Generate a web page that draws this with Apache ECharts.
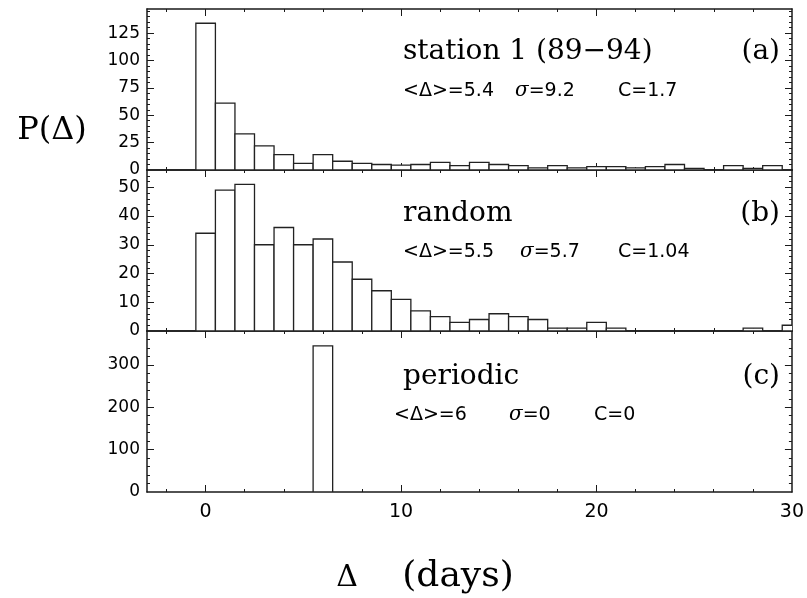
<!DOCTYPE html>
<html>
<head>
<meta charset="utf-8">
<script src="https://cdn.jsdelivr.net/npm/echarts@6/dist/echarts.min.js"></script>
<style>html,body{margin:0;padding:0;background:#fff;}#c{width:807px;height:598px;}</style>
</head>
<body>
<div id="c"></div>
<script>
// ---- data ----
const binsA = [0,1,2,3,4,5,6,7,8,9,10,11,12,13,14,15,16,17,18,19,20,21,22,23,24,25,26,27,28,29];
const countsA = [134,61,33,22,14,6,14,8,6,5,4.5,5,7,4,7,5,4,2,4,2,3,3,2,3,5,1.5,0,4,1.5,4];
const binsB = [0,1,2,3,4,5,6,7,8,9,10,11,12,13,14,15,16,17,18,19,20,21,22,23,24,25,26,27,28,29,30];
const countsB = [34,49,51,30,36,30,32,24,18,14,11,7,5,3,4,6,5,4,1,1,3,1,0,0,0,0,0,0,1,0,2];
const binsC = [6];
const countsC = [345];

const xLabels = [0,10,20,30];
const xMajorTicks = [0,10,20];
const xMinorTicks = [-2,2,4,6,8,12,14,16,18,22,24,26,28];
const yLabelsA = [0,25,50,75,100,125];
const yLabelsB = [0,10,20,30,40,50];
const yLabelsC = [0,100,200,300];

const panelTitles = ['station 1 (89\u221294)','random','periodic'];
const panelTags = ['(a)','(b)','(c)'];
const statMean = ['<\u0394>=5.4','<\u0394>=5.5','<\u0394>=6'];
const statSigma = ['9.2','5.7','0'];
const statC = ['1.7','1.04','0'];

// ---- layout ----
const X_MIN = -3, X_MAX = 30;
const yMax = [147, 56, 380];
const yMinorStep = [5, 2, 20];
const grids = [
  {left:147, width:645, top:9, height:161},
  {left:147, width:645, top:170, height:161},
  {left:147, width:645, top:331, height:161}
];
const INK = '#1a1a1a';
const lineStyle = {color: INK, width: 1.5};
const tickStyle = {color: INK, width: 1};

function minorList(max, step, majors){
  const out = [];
  for (let v = step; v < max; v += step) if (majors.indexOf(v) < 0) out.push(v);
  return out;
}

const xAxis = [], yAxis = [];
const yLabelSets = [yLabelsA, yLabelsB, yLabelsC];
for (let g = 0; g < 3; g++) {
  ['bottom','top'].forEach(pos => {
    xAxis.push({gridIndex:g, type:'value', min:X_MIN, max:X_MAX, position:pos,
      axisLine:{show:true, onZero:false, lineStyle},
      axisTick:{show:true, inside:true, length:3, customValues:xMinorTicks, lineStyle:tickStyle},
      axisLabel:{show:false}, splitLine:{show:false}});
    const showLab = (g === 2 && pos === 'bottom');
    xAxis.push({gridIndex:g, type:'value', min:X_MIN, max:X_MAX, position:pos,
      axisLine:{show:false, onZero:false},
      axisTick:{show:true, inside:true, length:7, customValues:xMajorTicks, lineStyle:tickStyle},
      axisLabel:{show:showLab, customValues:xLabels, margin:11, color:'#000',
        fontFamily:'DejaVu Sans', fontSize:19},
      splitLine:{show:false}});
  });
  const labs = yLabelSets[g];
  const minors = minorList(yMax[g], yMinorStep[g], labs);
  ['left','right'].forEach(pos => {
    yAxis.push({gridIndex:g, type:'value', min:0, max:yMax[g], position:pos,
      axisLine:{show:true, onZero:false, lineStyle},
      axisTick:{show:true, inside:true, length:3, customValues:minors, lineStyle:tickStyle},
      axisLabel:{show:false}, splitLine:{show:false}});
    yAxis.push({gridIndex:g, type:'value', min:0, max:yMax[g], position:pos,
      axisLine:{show:false, onZero:false},
      axisTick:{show:true, inside:true, length:7, customValues:labs.filter(v=>v>0), lineStyle:tickStyle},
      axisLabel:{show:pos==='left', customValues:labs, margin:7, color:'#000',
        fontFamily:'DejaVu Sans', fontSize:17},
      splitLine:{show:false}});
  });
}

function renderBar(params, api) {
  const x = api.value(0), y = api.value(1);
  if (!(y > 0)) return null;
  const p0 = api.coord([x - 0.5, y]);
  const p1 = api.coord([x + 0.5, 0]);
  return {type:'rect', shape:{x:p0[0], y:p0[1], width:p1[0]-p0[0], height:p1[1]-p0[1]},
    style:{fill:'#fff', stroke:'#222', lineWidth:1.3}};
}
function pairs(bins, vals){ return bins.map((b,i)=>[b, vals[i]]); }
const dataSets = [pairs(binsA,countsA), pairs(binsB,countsB), pairs(binsC,countsC)];
const series = dataSets.map((d,g)=>({type:'custom', xAxisIndex:g*4, yAxisIndex:g*4,
  clip:true, renderItem:renderBar, data:d, z:2}));

// ---- annotation text ----
const serif = 'DejaVu Serif';
const sans = 'DejaVu Sans';
const titleY = [52, 214, 377];
const statY = [91, 252, 415];
const statX = [[403,515,618],[403,520,618],[394,509,594]];
const graphic = [];
for (let g = 0; g < 3; g++) {
  graphic.push({type:'text', x:403, y:titleY[g], style:{text:panelTitles[g], fill:'#000',
    font:'28px "'+serif+'"', textAlign:'left', textVerticalAlign:'middle'}});
  graphic.push({type:'text', x:780, y:titleY[g], style:{text:panelTags[g], fill:'#000',
    font:'28px "'+serif+'"', textAlign:'right', textVerticalAlign:'middle'}});
  graphic.push({type:'text', x:statX[g][0], y:statY[g], style:{text:statMean[g], fill:'#000',
    font:'19px "'+sans+'"', textAlign:'left', textVerticalAlign:'middle'}});
  graphic.push({type:'text', x:statX[g][1], y:statY[g], style:{text:'{i|\u03c3}=' + statSigma[g], fill:'#000',
    font:'19px "'+sans+'"', textAlign:'left', textVerticalAlign:'middle',
    rich:{i:{fontStyle:'italic', fontFamily:serif, fontSize:20}}}});
  graphic.push({type:'text', x:statX[g][2], y:statY[g], style:{text:'C=' + statC[g], fill:'#000',
    font:'19px "'+sans+'"', textAlign:'left', textVerticalAlign:'middle'}});
}
graphic.push({type:'text', x:52, y:131, style:{text:'P(\u0394)', fill:'#000',
  font:'32px "'+serif+'"', textAlign:'center', textVerticalAlign:'middle'}});
graphic.push({type:'text', x:347, y:578, style:{text:'\u0394', fill:'#000',
  font:'30px "'+serif+'"', textAlign:'center', textVerticalAlign:'middle'}});
graphic.push({type:'text', x:458, y:577, style:{text:'(days)', fill:'#000',
  font:'36px "'+serif+'"', textAlign:'center', textVerticalAlign:'middle'}});

const chart = echarts.init(document.getElementById('c'), null, {renderer:'canvas'});
chart.setOption({
  animation:false,
  backgroundColor:'#fff',
  grid: grids,
  xAxis, yAxis, series, graphic
});
</script>
</body>
</html>
